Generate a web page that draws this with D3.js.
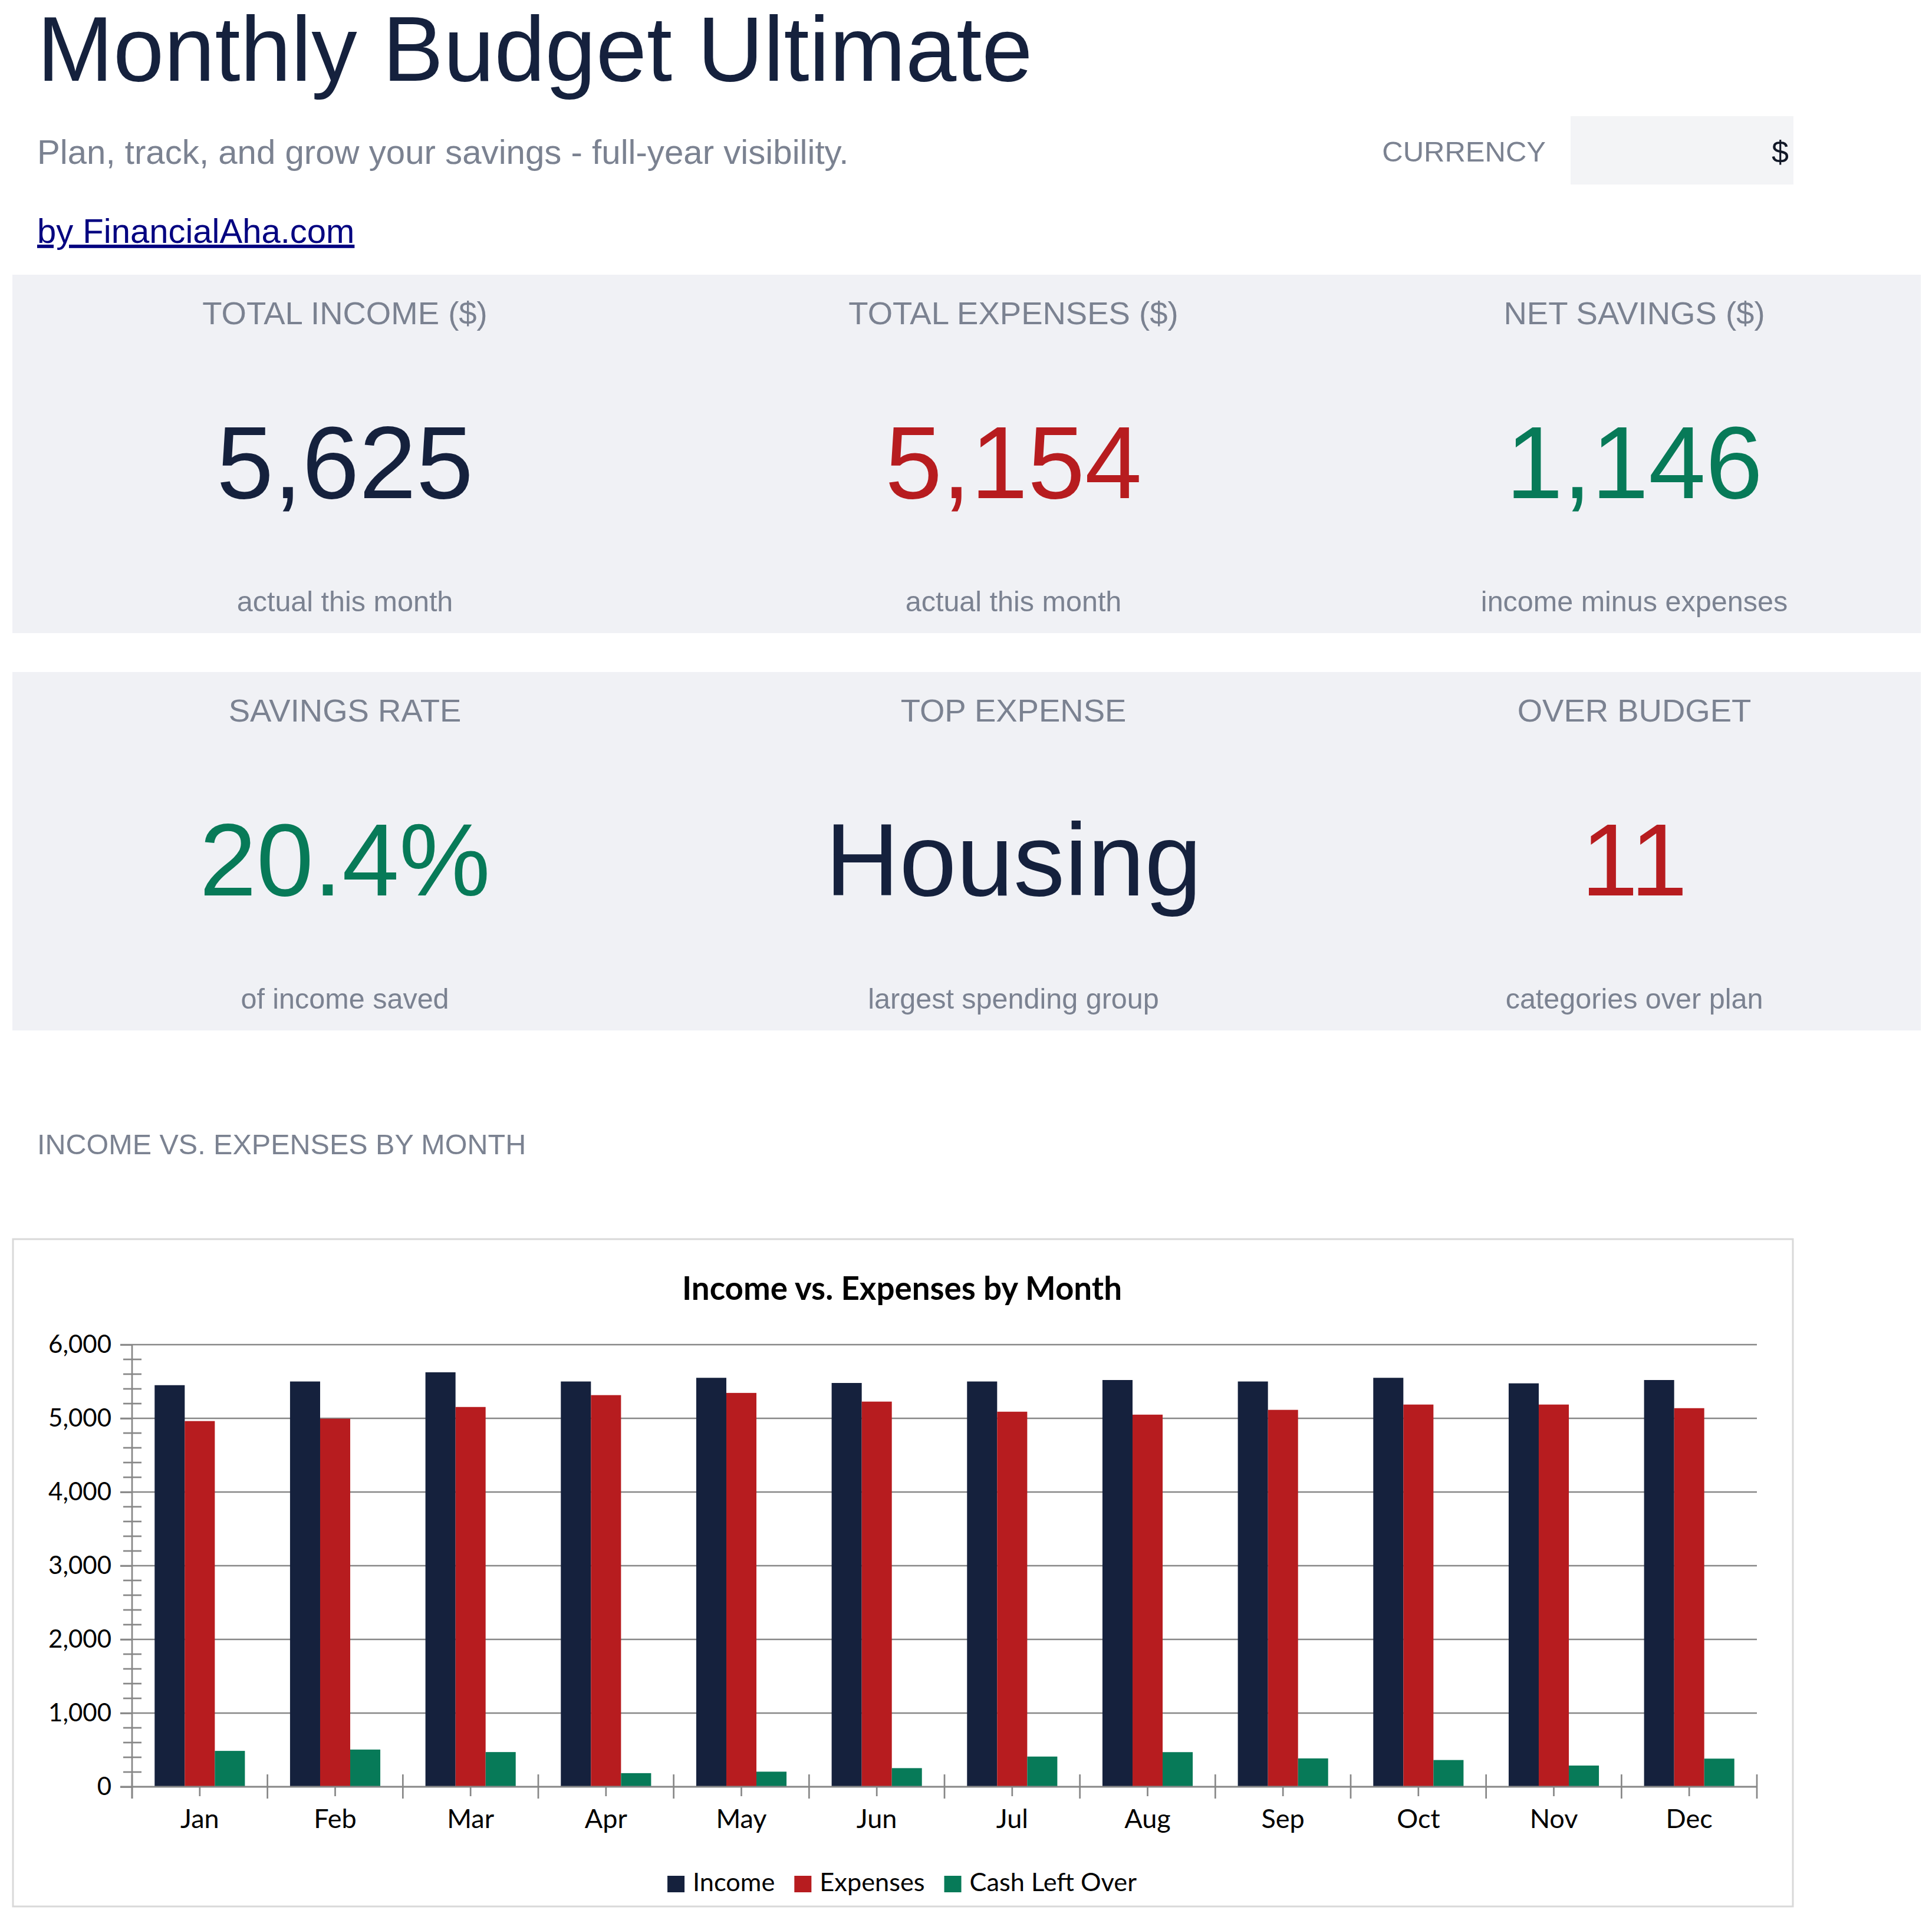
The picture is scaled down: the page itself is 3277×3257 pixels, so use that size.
<!DOCTYPE html>
<html>
<head>
<meta charset="utf-8">
<script src="https://cdn.jsdelivr.net/npm/d3@7"></script>
<style>
  body { margin: 0; background: #fff; }
  svg { display: block; }
</style>
</head>
<body>
<div id="svg-container"></div>
<script>
// data
const months = ["Jan", "Feb", "Mar", "Apr", "May", "Jun", "Jul", "Aug", "Sep", "Oct", "Nov", "Dec"];
const seriesNames = ["Income", "Expenses", "Cash Left Over"];
const income = [5450, 5500, 5625, 5500, 5550, 5480, 5500, 5520, 5500, 5550, 5475, 5520];
const expenses = [4963, 4995, 5154, 5315, 5345, 5227, 5090, 5050, 5115, 5187, 5187, 5138];
const cashLeft = [487, 505, 471, 185, 205, 253, 410, 470, 385, 363, 288, 382];
const yTicks = [0, 1000, 2000, 3000, 4000, 5000, 6000];

const kpiRow1 = [
    {label: "TOTAL INCOME ($)", value: "5,625", note: "actual this month", color: "#15213d"},
    {label: "TOTAL EXPENSES ($)", value: "5,154", note: "actual this month", color: "#b71c1f"},
    {label: "NET SAVINGS ($)", value: "1,146", note: "income minus expenses", color: "#077a58"}
];
const kpiRow2 = [
    {label: "SAVINGS RATE", value: "20.4%", note: "of income saved", color: "#077a58"},
    {label: "TOP EXPENSE", value: "Housing", note: "largest spending group", color: "#15213d"},
    {label: "OVER BUDGET", value: "11", note: "categories over plan", color: "#b71c1f"}
];

const W = 3277, H = 3257;
const sans = "'Liberation Sans', Arial, sans-serif";
const lato = "Lato, 'Open Sans', sans-serif";
const grey = "#7b8291";
const colors = ["#15213d", "#b71c1f", "#077a58"];

const svg = d3.select("#svg-container")
    .append("svg")
    .attr("width", W)
    .attr("height", H);

svg.append("rect").attr("width", W).attr("height", H).attr("fill", "#fff");

// header
svg.append("text")
    .attr("x", 63).attr("y", 137)
    .attr("font-family", sans).attr("font-size", 155)
    .attr("fill", "#15213d")
    .text("Monthly Budget Ultimate");

svg.append("text")
    .attr("x", 63).attr("y", 278)
    .attr("font-family", sans).attr("font-size", 58.2)
    .attr("fill", grey)
    .text("Plan, track, and grow your savings - full-year visibility.");

svg.append("text")
    .attr("x", 2622).attr("y", 274)
    .attr("text-anchor", "end")
    .attr("font-family", sans).attr("font-size", 49)
    .attr("fill", grey)
    .text("CURRENCY");

svg.append("rect")
    .attr("x", 2664).attr("y", 197)
    .attr("width", 378).attr("height", 116)
    .attr("fill", "#f3f4f6");

svg.append("text")
    .attr("x", 3034).attr("y", 276)
    .attr("text-anchor", "end")
    .attr("font-family", sans).attr("font-size", 52)
    .attr("fill", "#111827")
    .text("$");

svg.append("text")
    .attr("x", 63).attr("y", 412)
    .attr("font-family", sans).attr("font-size", 58)
    .attr("fill", "#000080")
    .attr("text-decoration", "underline")
    .text("by FinancialAha.com");

// KPI panels
const colX = [585, 1719, 2772];

function drawPanel(top, cards) {
    const g = svg.append("g").attr("transform", `translate(0, ${top})`);
    g.append("rect")
        .attr("x", 21).attr("y", 0)
        .attr("width", 3237).attr("height", 608)
        .attr("fill", "#f0f1f5");
    const card = g.selectAll("g.card")
        .data(cards)
        .join("g")
        .attr("class", "card")
        .attr("transform", (d, i) => `translate(${colX[i]}, 0)`)
        .attr("text-anchor", "middle")
        .attr("font-family", sans);
    card.append("text")
        .attr("y", 84)
        .attr("font-size", 54.5)
        .attr("fill", grey)
        .text(d => d.label);
    card.append("text")
        .attr("y", 379)
        .attr("font-size", 174)
        .attr("fill", d => d.color)
        .text(d => d.value);
    card.append("text")
        .attr("y", 571)
        .attr("font-size", 48.5)
        .attr("fill", grey)
        .text(d => d.note);
}
drawPanel(466, kpiRow1);
drawPanel(1140, kpiRow2);

svg.append("text")
    .attr("x", 63).attr("y", 1958)
    .attr("font-family", sans).attr("font-size", 48.5)
    .attr("fill", grey)
    .text("INCOME VS. EXPENSES BY MONTH");

// chart box
svg.append("rect")
    .attr("x", 22).attr("y", 2102)
    .attr("width", 3019).attr("height", 1132)
    .attr("fill", "#fff")
    .attr("stroke", "#d9d9d9")
    .attr("stroke-width", 3);

svg.append("text")
    .attr("x", 1530).attr("y", 2205)
    .attr("text-anchor", "middle")
    .attr("font-family", lato).attr("font-weight", "bold").attr("font-size", 54.7)
    .attr("fill", "#000")
    .text("Income vs. Expenses by Month");

const plot = {left: 224, right: 2980, top: 2281, bottom: 3031};
const axisColor = "#878787";

const x0 = d3.scaleBand()
    .domain(months)
    .range([plot.left, plot.right])
    .padding(0);

const x1 = d3.scaleBand()
    .domain(seriesNames)
    .range([0, x0.bandwidth()])
    .paddingInner(0)
    .paddingOuter(0.75);

const y = d3.scaleLinear()
    .domain([0, 6000])
    .range([plot.bottom, plot.top]);

const chart = svg.append("g");

// gridlines (with major tick stub to the left)
chart.append("g")
    .selectAll("line")
    .data(yTicks.filter(v => v > 0))
    .join("line")
    .attr("x1", plot.left - 20).attr("x2", plot.right)
    .attr("y1", d => y(d)).attr("y2", d => y(d))
    .attr("stroke", axisColor).attr("stroke-width", 2.7);

// bars
const rows = months.map((m, i) => ({month: m, values: [income[i], expenses[i], cashLeft[i]]}));
chart.append("g")
    .selectAll("g")
    .data(rows)
    .join("g")
    .attr("transform", d => `translate(${x0(d.month)}, 0)`)
    .selectAll("rect")
    .data(d => d.values.map((v, k) => ({key: seriesNames[k], value: v, k: k})))
    .join("rect")
    .attr("x", d => x1(d.key))
    .attr("width", x1.bandwidth())
    .attr("y", d => y(d.value))
    .attr("height", d => y(0) - y(d.value))
    .attr("fill", d => colors[d.k]);

// y axis
const yAxis = chart.append("g")
    .attr("transform", `translate(${plot.left}, 0)`)
    .call(d3.axisLeft(y).tickValues(yTicks).tickSize(20).tickPadding(15).tickFormat(d3.format(",")));
yAxis.select(".domain").remove();
yAxis.selectAll(".tick line").attr("stroke", axisColor).attr("stroke-width", 2.7);
yAxis.selectAll(".tick text")
    .attr("font-family", lato).attr("font-size", 42).attr("fill", "#000");

const minor = d3.range(200, 6000, 200).filter(v => v % 1000 !== 0);
chart.append("g")
    .selectAll("line")
    .data(minor)
    .join("line")
    .attr("x1", plot.left - 15).attr("x2", plot.left + 16)
    .attr("y1", d => y(d)).attr("y2", d => y(d))
    .attr("stroke", axisColor).attr("stroke-width", 2.7);

chart.append("line")
    .attr("x1", plot.left).attr("x2", plot.left)
    .attr("y1", plot.top).attr("y2", plot.bottom + 20)
    .attr("stroke", axisColor).attr("stroke-width", 2.7);

// x axis
chart.append("line")
    .attr("x1", plot.left - 20).attr("x2", plot.right)
    .attr("y1", plot.bottom).attr("y2", plot.bottom)
    .attr("stroke", axisColor).attr("stroke-width", 3);

const bounds = months.map(m => x0(m)).concat([plot.right]);
chart.append("g")
    .selectAll("line")
    .data(bounds)
    .join("line")
    .attr("x1", d => d).attr("x2", d => d)
    .attr("y1", plot.bottom - 21).attr("y2", plot.bottom + 20)
    .attr("stroke", axisColor).attr("stroke-width", 2.7);

const xAxis = chart.append("g")
    .attr("transform", `translate(0, ${plot.bottom})`)
    .call(d3.axisBottom(x0).tickSize(16).tickPadding(22));
xAxis.select(".domain").remove();
xAxis.selectAll(".tick line").attr("stroke", axisColor).attr("stroke-width", 2.7);
xAxis.selectAll(".tick text")
    .attr("font-family", lato).attr("font-size", 45).attr("fill", "#000");

// legend
const legend = svg.append("g").attr("font-family", lato).attr("font-size", 43.3);
const items = legend.selectAll("g")
    .data(seriesNames)
    .join("g");
items.append("rect")
    .attr("y", 3182).attr("width", 29).attr("height", 28)
    .attr("fill", (d, i) => colors[i]);
items.append("text")
    .attr("x", 43).attr("y", 3208)
    .attr("fill", "#000")
    .text(d => d);

let pos = 0;
const offsets = [];
items.each(function() {
    offsets.push(pos);
    const w = 43 + d3.select(this).select("text").node().getComputedTextLength();
    pos += w + 33;
});
const total = pos - 33;
const start = 1530 - total / 2;
items.attr("transform", (d, i) => `translate(${start + offsets[i]}, 0)`);
</script>
</body>
</html>
